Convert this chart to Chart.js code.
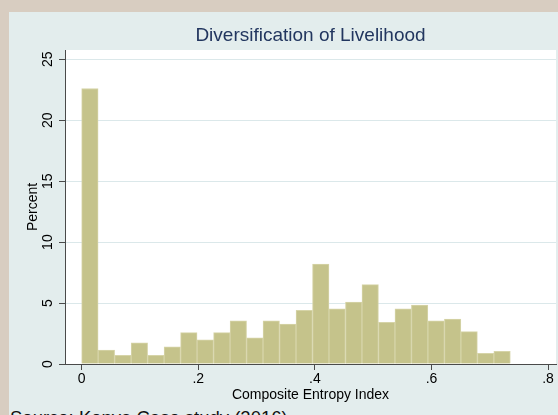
<!DOCTYPE html>
<html>
<head>
<meta charset="utf-8">
<script src="https://cdn.jsdelivr.net/npm/chart.js@4.4.1/dist/chart.umd.min.js"></script>
<style>
  html, body { margin: 0; padding: 0; }
  body {
    width: 558px; height: 415px; overflow: hidden;
    background: #d8cdc1; position: relative;
    font-family: "Liberation Sans", Arial, sans-serif;
  }
  #panel {
    position: absolute; left: 9px; top: 12px; width: 549px; height: 403px;
    background: #e3eded;
  }
  #wrap { position: absolute; left: 0; top: 0; width: 549px; height: 395px; }
  #source {
    position: absolute; left: 1px; top: 395px; font-size: 18.5px; color: #111;
    white-space: nowrap;
  }
</style>
</head>
<body>
<div id="panel">
  <div id="wrap"><canvas id="hist"></canvas></div>
  <div id="source">Source: Kenya Case study (2016)</div>
</div>
<script>
// =============================
// DATOS
// =============================
const binCenters = [
  0.0141, 0.0424, 0.0707, 0.0990, 0.1273, 0.1555, 0.1838, 0.2121, 0.2404,
  0.2687, 0.2969, 0.3252, 0.3535, 0.3818, 0.4101, 0.4383, 0.4666, 0.4949,
  0.5232, 0.5515, 0.5797, 0.6080, 0.6363, 0.6646, 0.6929, 0.7211
];
const percents = [
  22.6, 1.15, 0.71, 1.73, 0.71, 1.40, 2.58, 1.98, 2.58,
  3.54, 2.14, 3.54, 3.27, 4.40, 8.2, 4.53, 5.08, 6.51,
  3.41, 4.53, 4.84, 3.54, 3.68, 2.66, 0.88, 1.04
];
const xTicks = [0, 0.2, 0.4, 0.6, 0.8];
const yTicks = [0, 5, 10, 15, 20, 25];

Chart.defaults.font.family = '"Liberation Sans", Arial, sans-serif';
Chart.defaults.color = "#000";

// fondo blanco del área de trazado
const plotBg = {
  id: "plotBg",
  beforeDraw(chart) {
    const { ctx, chartArea: a } = chart;
    ctx.save();
    ctx.fillStyle = "#ffffff";
    ctx.fillRect(a.left, a.top, a.right - a.left, a.bottom - a.top);
    ctx.restore();
  },
};

new Chart(document.getElementById("hist"), {
  type: "bar",
  data: {
    datasets: [
      {
        data: binCenters.map((x, i) => ({ x: x, y: percents[i] })),
        backgroundColor: "#c5c38b",
        borderColor: "#d6d4a8",
        borderWidth: 1,
        barPercentage: 1,
        categoryPercentage: 1,
      },
    ],
  },
  options: {
    responsive: true,
    maintainAspectRatio: false,
    animation: false,
    layout: { padding: { left: 0, right: 2, top: 0, bottom: 0 } },
    plugins: {
      legend: { display: false },
      tooltip: { enabled: false },
      title: {
        display: true,
        text: "Diversification of Livelihood",
        color: "#22365f",
        fullSize: false,
        font: { size: 19, weight: "normal" },
        padding: { top: 12.6, bottom: 2.6 },
      },
    },
    scales: {
      x: {
        type: "linear",
        offset: false,
        min: -0.0286,
        max: 0.8136,
        afterFit: (s) => { s.height = 43; },
        afterBuildTicks: (s) => { s.ticks = xTicks.map((v) => ({ value: v })); },
        ticks: {
          font: { size: 14 },
          padding: 1,
          maxRotation: 0,
          callback: (v) => (v === 0 ? "0" : String(+v.toFixed(1)).replace(/^0/, "")),
        },
        grid: {
          offset: false,
          drawOnChartArea: false,
          drawTicks: true,
          tickLength: 6,
          tickColor: "#4a4a4a",
        },
        border: { color: "#4a4a4a", width: 1 },
        title: {
          display: true,
          text: "Composite Entropy Index",
          font: { size: 14 },
          padding: { top: 0, bottom: 3.6 },
        },
      },
      y: {
        min: 0,
        max: 25.76,
        afterFit: (s) => { s.width = 56; },
        afterBuildTicks: (s) => { s.ticks = yTicks.map((v) => ({ value: v })); },
        ticks: {
          font: { size: 14 },
          padding: 3,
          minRotation: 90,
          maxRotation: 90,
          crossAlign: "center",
        },
        grid: {
          color: (c) => (c.tick && c.tick.value === 0 ? "rgba(0,0,0,0)" : "#dbe8ea"),
          tickLength: 6,
          tickColor: "#4a4a4a",
        },
        border: { color: "#4a4a4a", width: 1 },
        title: {
          display: true,
          text: "Percent",
          font: { size: 14 },
          padding: { top: 15.6, bottom: 0 },
        },
      },
    },
  },
  plugins: [plotBg],
});
</script>
</body>
</html>
